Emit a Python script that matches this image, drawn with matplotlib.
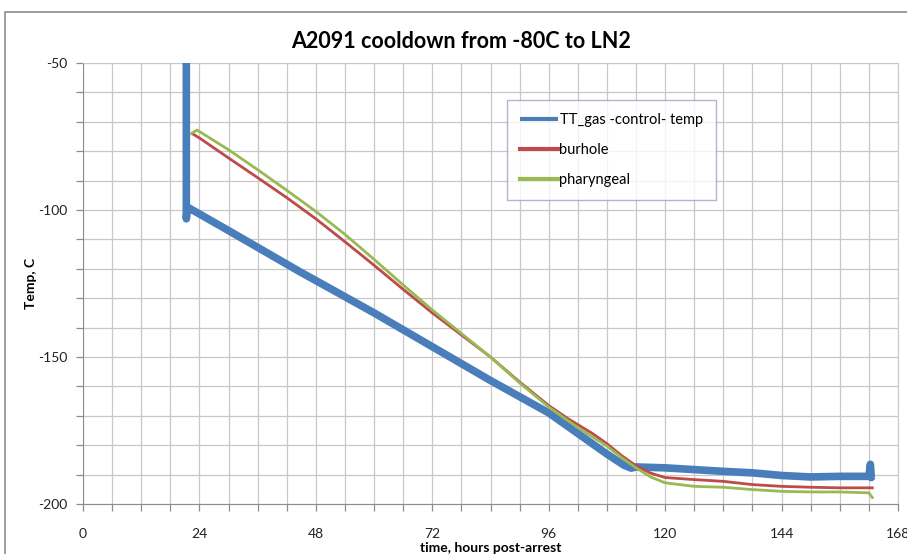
import matplotlib.pyplot as plt
from matplotlib.patches import Rectangle
from matplotlib.ticker import MultipleLocator

plt.rcParams['font.family'] = ['Lato', 'DejaVu Sans']
plt.rcParams['axes.unicode_minus'] = False

# TT_gas control temperature (blue)
gas_hours = [21.3, 21.3, 21.5, 30, 44.7, 48, 60, 72, 84, 96, 102, 108, 111.5, 113,
             114, 120, 126, 132, 138, 144, 150, 156, 162, 162.3, 162.5, 162.7]
gas_temp = [-45, -103, -99, -107, -121, -124, -135, -146.5, -158, -169, -176, -183, -186.8, -187.8,
            -187.4, -187.7, -188.3, -188.9, -189.4, -190.3, -190.8, -190.6, -190.6, -186.5, -191, -190.5]

# burhole probe (red)
bur_hours = [22.5, 24, 30, 36, 42, 48, 54, 60, 66, 72, 78, 84, 90, 96, 100, 102, 105, 108,
             111, 114, 117, 120, 126, 132, 138, 144, 150, 156, 162.7]
bur_temp = [-74, -75.5, -82.3, -89, -95.8, -103, -110.8, -118.8, -127, -135, -142.5, -150, -158.5, -166.5,
            -171, -173, -176, -179.5, -183.5, -187, -189.5, -191, -191.7, -192.3, -193.4, -194, -194.3,
            -194.5, -194.5]

# pharyngeal probe (green)
pha_hours = [22.3, 23.5, 30, 36, 42, 48, 54, 60, 66, 72, 78, 84, 90, 96, 102, 108, 111,
             114, 117, 120, 126, 132, 138, 144, 150, 156, 162, 162.7]
pha_temp = [-74, -72.8, -79.5, -86.3, -93.3, -100.5, -108.3, -116.8, -125.5, -134, -142, -150, -158.8, -167,
            -174, -180.3, -184.2, -187.7, -190.8, -192.8, -194, -194.3, -195.1, -195.7, -195.9, -195.9,
            -196.2, -197.8]

x_ticks = [0, 24, 48, 72, 96, 120, 144, 168]
y_ticks = [-200, -150, -100, -50]

fig = plt.figure(figsize=(9.07, 5.54), dpi=100)
ax = fig.add_axes([83 / 907, 1 - 504 / 554, (898 - 83) / 907, (504 - 63) / 554])

# chart border like the spreadsheet frame
fig.patches.append(Rectangle((5 / 907, -0.1), 1.2, 1.1 - 12 / 554, transform=fig.transFigure,
                             fill=False, edgecolor='#8c8c8c', linewidth=1.2))

ax.plot(gas_hours, gas_temp, color='#4a7ebb', lw=5.5, solid_capstyle='butt',
        label='TT_gas -control- temp', zorder=3)
ax.plot(bur_hours, bur_temp, color='#be4b48', lw=2.0, label='burhole', zorder=4)
ax.plot(pha_hours, pha_temp, color='#98b954', lw=2.0, label='pharyngeal', zorder=5)

ax.set_xlim(0, 168)
ax.set_ylim(-200, -50)
ax.set_xticks(x_ticks)
ax.set_yticks(y_ticks)
ax.xaxis.set_minor_locator(MultipleLocator(6))
ax.yaxis.set_minor_locator(MultipleLocator(10))
ax.grid(True, which='both', color='#c8c8c8', lw=0.9)
ax.set_axisbelow(True)
ax.tick_params(which='both', direction='out', length=5, color='#8c8c8c', width=0.9,
               labelsize=10, labelcolor='#222222')
ax.tick_params(axis='x', pad=12)
ax.tick_params(axis='y', pad=6)
for side in ['left', 'bottom']:
    ax.spines[side].set_color('#8c8c8c')
for side in ['top', 'right']:
    ax.spines[side].set_color('#c8c8c8')

fig.text(461 / 907, 1 - 42 / 554, 'A2091 cooldown from -80C to LN2', fontsize=15.5,
         fontweight='bold', ha='center', va='center')
ax.set_xlabel('time, hours post-arrest', fontsize=10, fontweight='bold', labelpad=2)
ax.set_ylabel('Temp, C', fontsize=10, fontweight='bold', labelpad=1)

leg = ax.legend(loc='upper left', bbox_to_anchor=((507 - 83) / 815, 1 - (100 - 63) / 441),
                fontsize=10.5, frameon=True, fancybox=False, borderpad=0.9,
                labelspacing=1.1, handlelength=2.6, handletextpad=0.1, borderaxespad=0)
leg.get_frame().set_edgecolor('#9aa7c0')
leg.get_frame().set_linewidth(1.0)
for line in leg.get_lines():
    line.set_linewidth(3)

fig.savefig('out.png', dpi=100)
